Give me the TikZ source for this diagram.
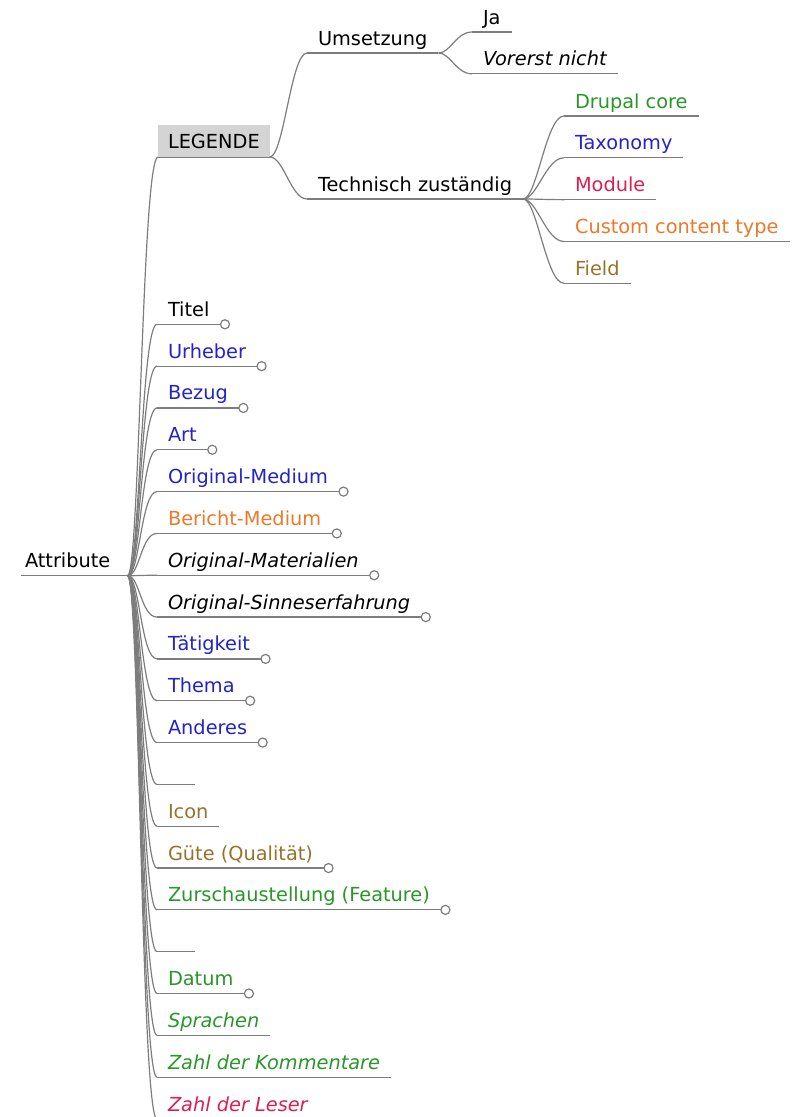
\documentclass[tikz,border=0pt]{standalone}
\usepackage{fontspec}
\setmainfont{DejaVu Sans}
\usetikzlibrary{positioning}

\definecolor{mmblue}{RGB}{35,35,200}
\definecolor{mmgreen}{RGB}{40,150,40}
\definecolor{mmred}{RGB}{220,30,80}
\definecolor{mmorange}{RGB}{238,120,40}
\definecolor{mmbrown}{RGB}{150,115,45}
\definecolor{mmline}{RGB}{125,125,125}
\definecolor{mmgray}{RGB}{212,212,212}

\begin{document}
\begin{tikzpicture}[x=0.75pt,y=-0.75pt,
    node distance=11.87pt,
    every node/.style={font=\fontsize{14.5}{17}\selectfont},
    kursiv/.style={font=\fontsize{14.5}{17}\selectfont\itshape},
    branch/.style={draw=mmline,line width=0.9pt},
    leaf/.style={anchor=south west,outer sep=0pt,inner xsep=8.25pt,inner ysep=2.5pt,text height=11pt,text depth=3.5pt,
        append after command={\pgfextra{\draw[branch] (\tikzlastnode.south west)--(\tikzlastnode.south east);}}},
    folded/.style={append after command={\pgfextra{\draw[branch,fill=white] ([xshift=3.4pt]\tikzlastnode.south east) circle (3.4pt);}}},
    legend/.style={leaf,fill=mmgray,inner xsep=7.5pt,inner ysep=6.5pt,text depth=0pt},
    root/.style={leaf,inner xsep=3pt,text width=74pt,align=left}]

\useasboundingbox (0,0) rectangle (795,1117);

%LEGENDE====================================================================
\node[root] (attr) at (21,575.7) {Attribute};
\node[legend] (legende) at (158,157) {LEGENDE};
\node[leaf] (umsetzung) at (307,53) {Umsetzung};
\node[leaf] (technisch) at (307,199) {Technisch zuständig};

\node[leaf] (ja) at (472,32) {Ja};
\node[leaf,kursiv,below=of ja.south west,anchor=north west] (vorerst) {Vorerst nicht};

\node[leaf,text=mmgreen] (drupal) at (564,116) {Drupal core};
\node[leaf,text=mmblue,below=of drupal.south west,anchor=north west] (taxonomy) {Taxonomy};
\node[leaf,text=mmred,below=of taxonomy.south west,anchor=north west] (module) {Module};
\node[leaf,text=mmorange,below=of module.south west,anchor=north west] (custom) {Custom content type};
\node[leaf,text=mmbrown,below=of custom.south west,anchor=north west] (field) {Field};

\draw[branch] (attr.south east) .. controls +(12,0) and +(-16,0) .. (legende.south west);
\draw[branch] (legende.south east) .. controls +(14,0) and +(-16,0) .. (umsetzung.south west);
\draw[branch] (legende.south east) .. controls +(14,0) and +(-16,0) .. (technisch.south west);
\draw[branch] (umsetzung.south east) .. controls +(12,0) and +(-16,0) .. (ja.south west);
\draw[branch] (umsetzung.south east) .. controls +(12,0) and +(-16,0) .. (vorerst.south west);
\draw[branch] (technisch.south east) .. controls +(14,0) and +(-18,0) .. (drupal.south west);
\draw[branch] (technisch.south east) .. controls +(14,0) and +(-18,0) .. (taxonomy.south west);
\draw[branch] (technisch.south east) .. controls +(14,0) and +(-18,0) .. (module.south west);
\draw[branch] (technisch.south east) .. controls +(14,0) and +(-18,0) .. (custom.south west);
\draw[branch] (technisch.south east) .. controls +(14,0) and +(-18,0) .. (field.south west);
%=======================================================================

%Attribute====================================================================
\node[leaf,folded] (titel) at (157,324.3) {Titel};
\node[leaf,folded,text=mmblue,below=of titel.south west,anchor=north west] (urheber) {Urheber};
\node[leaf,folded,text=mmblue,below=of urheber.south west,anchor=north west] (bezug) {Bezug};
\node[leaf,folded,text=mmblue,below=of bezug.south west,anchor=north west] (art) {Art};
\node[leaf,folded,text=mmblue,below=of art.south west,anchor=north west] (origmedium) {Original-Medium};
\node[leaf,folded,text=mmorange,below=of origmedium.south west,anchor=north west] (berichtmedium) {Bericht-Medium};
\node[leaf,folded,kursiv,below=of berichtmedium.south west,anchor=north west] (origmaterial) {Original-Materialien};
\node[leaf,folded,kursiv,below=of origmaterial.south west,anchor=north west] (origsinne) {Original-Sinneserfahrung};
\node[leaf,folded,text=mmblue,below=of origsinne.south west,anchor=north west] (taetigkeit) {Tätigkeit};
\node[leaf,folded,text=mmblue,below=of taetigkeit.south west,anchor=north west] (thema) {Thema};
\node[leaf,folded,text=mmblue,below=of thema.south west,anchor=north west] (anderes) {Anderes};
\node[leaf,minimum width=28.5pt,below=of anderes.south west,anchor=north west] (leer1) {};
\node[leaf,text=mmbrown,below=of leer1.south west,anchor=north west] (icon) {Icon};
\node[leaf,folded,text=mmbrown,below=of icon.south west,anchor=north west] (guete) {Güte (Qualität)};
\node[leaf,folded,text=mmgreen,below=of guete.south west,anchor=north west] (feature) {Zurschaustellung (Feature)};
\node[leaf,minimum width=28.5pt,below=of feature.south west,anchor=north west] (leer2) {};
\node[leaf,folded,text=mmgreen,below=of leer2.south west,anchor=north west] (datum) {Datum};
\node[leaf,kursiv,text=mmgreen,below=of datum.south west,anchor=north west] (sprachen) {Sprachen};
\node[leaf,kursiv,text=mmgreen,below=of sprachen.south west,anchor=north west] (kommentare) {Zahl der Kommentare};
\node[leaf,kursiv,text=mmred,below=of kommentare.south west,anchor=north west] (leser) {Zahl der Leser};

\draw[branch] (attr.south east) .. controls +(12,0) and +(-16,0) .. (titel.south west);
\draw[branch] (attr.south east) .. controls +(12,0) and +(-16,0) .. (urheber.south west);
\draw[branch] (attr.south east) .. controls +(12,0) and +(-16,0) .. (bezug.south west);
\draw[branch] (attr.south east) .. controls +(12,0) and +(-16,0) .. (art.south west);
\draw[branch] (attr.south east) .. controls +(12,0) and +(-16,0) .. (origmedium.south west);
\draw[branch] (attr.south east) .. controls +(12,0) and +(-16,0) .. (berichtmedium.south west);
\draw[branch] (attr.south east) .. controls +(12,0) and +(-16,0) .. (origmaterial.south west);
\draw[branch] (attr.south east) .. controls +(12,0) and +(-16,0) .. (origsinne.south west);
\draw[branch] (attr.south east) .. controls +(12,0) and +(-16,0) .. (taetigkeit.south west);
\draw[branch] (attr.south east) .. controls +(12,0) and +(-16,0) .. (thema.south west);
\draw[branch] (attr.south east) .. controls +(12,0) and +(-16,0) .. (anderes.south west);
\draw[branch] (attr.south east) .. controls +(12,0) and +(-16,0) .. (leer1.south west);
\draw[branch] (attr.south east) .. controls +(12,0) and +(-16,0) .. (icon.south west);
\draw[branch] (attr.south east) .. controls +(12,0) and +(-16,0) .. (guete.south west);
\draw[branch] (attr.south east) .. controls +(12,0) and +(-16,0) .. (feature.south west);
\draw[branch] (attr.south east) .. controls +(12,0) and +(-16,0) .. (leer2.south west);
\draw[branch] (attr.south east) .. controls +(12,0) and +(-16,0) .. (datum.south west);
\draw[branch] (attr.south east) .. controls +(12,0) and +(-16,0) .. (sprachen.south west);
\draw[branch] (attr.south east) .. controls +(12,0) and +(-16,0) .. (kommentare.south west);
\draw[branch] (attr.south east) .. controls +(12,0) and +(-16,0) .. (leser.south west);
%=======================================================================

\end{tikzpicture}
\end{document}
